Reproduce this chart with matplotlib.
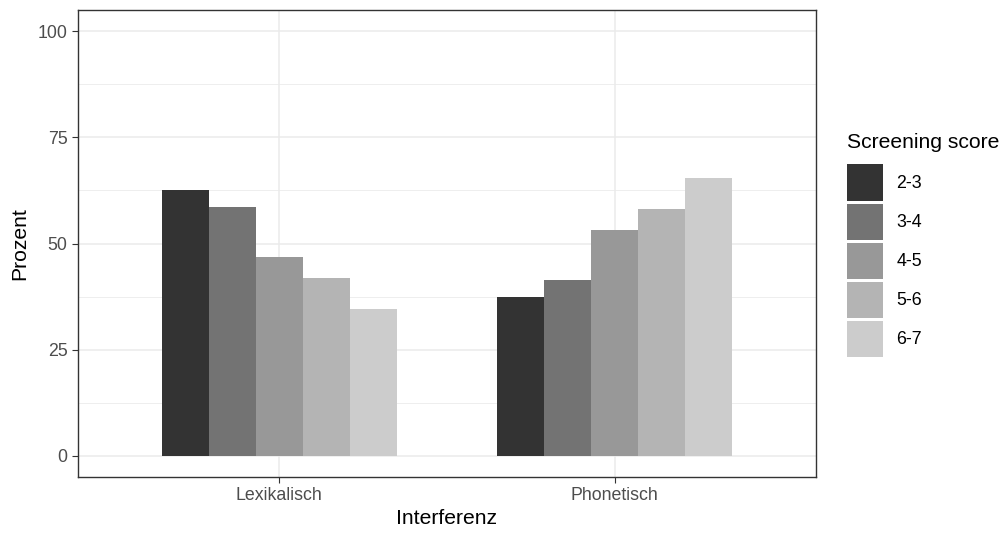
import matplotlib
matplotlib.use("Agg")
import matplotlib.pyplot as plt
from matplotlib.patches import Patch
import numpy as np

# data
categories = ["Lexikalisch", "Phonetisch"]
groups = ["2-3", "3-4", "4-5", "5-6", "6-7"]
lexikalisch = [62.6, 58.5, 46.8, 41.9, 34.6]
phonetisch = [37.4, 41.5, 53.2, 58.1, 65.4]
colors = ["#333333", "#737373", "#989898", "#B4B4B4", "#CCCCCC"]

plt.rcParams['font.family'] = ['Liberation Sans', 'DejaVu Sans']

fig = plt.figure(figsize=(10.08, 5.33), dpi=100)
ax = fig.add_axes([78/1008, 1-477/533, (816-78)/1008, (477-10)/533])

values = np.array([lexikalisch, phonetisch])  # rows: category, cols: group
x = np.arange(1, len(categories)+1)
total_w = 0.7
w = total_w/len(groups)
for i, g in enumerate(groups):
    xpos = x - total_w/2 + w*(i+0.5)
    ax.bar(xpos, values[:, i], width=w, color=colors[i], label=g, zorder=3)

ax.set_xlim(0.4, 2.6)
ax.set_ylim(-5, 105)
ax.set_xticks(x)
ax.set_xticklabels(categories)
ax.set_yticks([0, 25, 50, 75, 100])
ax.set_yticks([12.5, 37.5, 62.5, 87.5], minor=True)

ax.grid(True, which='major', color='#EBEBEB', lw=1.1, zorder=0)
ax.grid(True, which='minor', axis='y', color='#EBEBEB', lw=0.6, zorder=0)
ax.tick_params(which='major', length=4, width=0.8, color='#333333',
               labelcolor='#4D4D4D', labelsize=12.8)
ax.tick_params(which='minor', length=0)
for s in ax.spines.values():
    s.set_color('#333333')
    s.set_linewidth(1.0)

ax.set_xlabel("Interferenz", fontsize=15.2, labelpad=3)
ax.set_ylabel("Prozent", fontsize=15.2, labelpad=6)

fs = 12.8
handles = [Patch(facecolor=c, edgecolor='none') for c in colors]
leg = fig.legend(handles, groups, title="Screening score", loc='upper left',
                 bbox_to_anchor=(847/1008, 1-133/533), frameon=False,
                 fontsize=fs, title_fontsize=15.2, handlelength=2.03,
                 handleheight=2.74, labelspacing=0.17, handletextpad=0.75,
                 borderaxespad=0, borderpad=0)
leg._legend_box.align = "left"
leg._legend_box.sep = 9

fig.savefig("out.png", dpi=100)
